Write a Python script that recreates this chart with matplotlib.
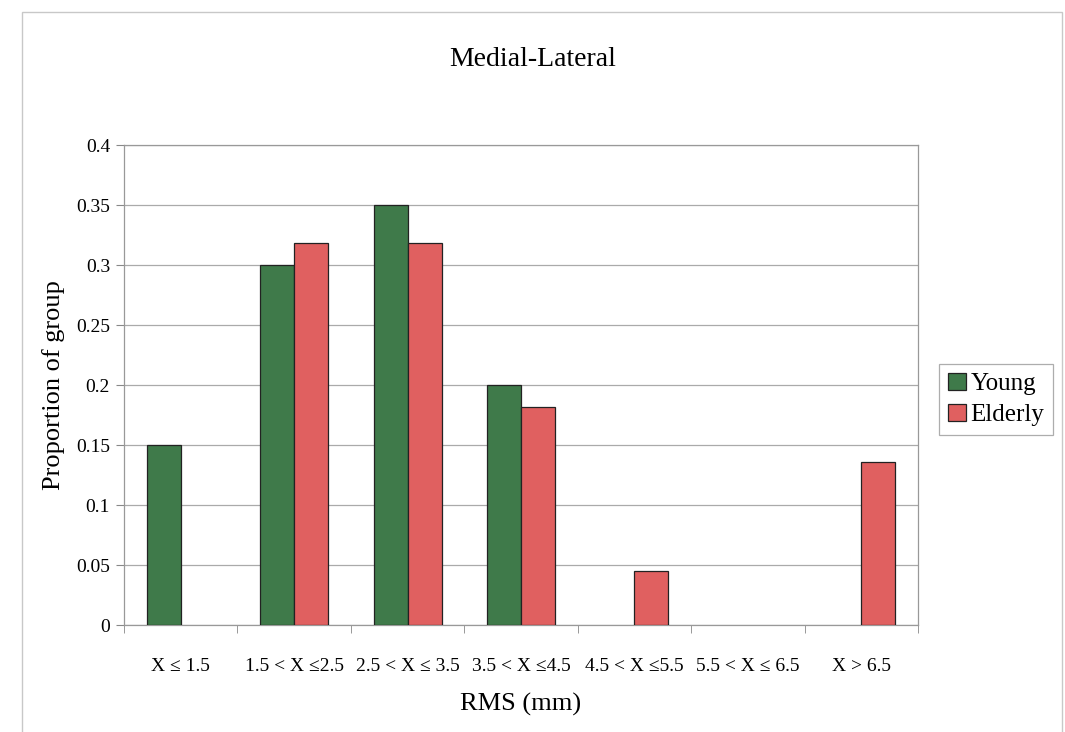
import numpy as np
import matplotlib
matplotlib.use("Agg")
import matplotlib.pyplot as plt
from matplotlib.patches import Rectangle, Patch

categories = ["X \u2264 1.5", "1.5 < X \u22642.5", "2.5 < X \u2264 3.5", "3.5 < X \u22644.5",
              "4.5 < X \u22645.5", "5.5 < X \u2264 6.5", "X > 6.5"]
young = [0.15, 0.30, 0.35, 0.20, 0.0, 0.0, 0.0]
elderly = [0.0, 0.318, 0.318, 0.182, 0.045, 0.0, 0.136]
yticks = [0, 0.05, 0.1, 0.15, 0.2, 0.25, 0.3, 0.35, 0.4]
ytick_labels = ["0", "0.05", "0.1", "0.15", "0.2", "0.25", "0.3", "0.35", "0.4"]

GREEN, RED = "#3f7a4a", "#e06060"

plt.rcParams["font.family"] = ["Liberation Serif", "DejaVu Serif"]

fig = plt.figure(figsize=(10.65, 7.32), dpi=100)
fig.patches.append(Rectangle((22 / 1065, -0.01), 1040 / 1065, 1 - 12 / 732 + 0.01,
                             transform=fig.transFigure, fill=False,
                             edgecolor="#c8c8c8", lw=1.0))
ax = fig.add_axes([124 / 1065, 1 - 625 / 732, (918 - 124) / 1065, (625 - 145) / 732])

x = np.arange(len(categories))
w = 0.3
bars_y = ax.bar(x - w / 2, young, w, color=GREEN, edgecolor="#222222", lw=0.9, zorder=3)
bars_e = ax.bar(x + w / 2, elderly, w, color=RED, edgecolor="#222222", lw=0.9, zorder=3)
# empty bins: no outline
for b in list(bars_y) + list(bars_e):
    if b.get_height() == 0:
        b.set_linewidth(0)

ax.set_xlim(-0.5, len(categories) - 0.5)
ax.set_ylim(0, 0.4)
ax.set_yticks(yticks)
ax.set_yticklabels(ytick_labels, fontsize=14)
ax.set_xticks(x)
ax.set_xticklabels(categories, fontsize=14)
ax.tick_params(axis="x", length=0, pad=24)
ax.set_xticks(np.arange(-0.5, len(categories)), minor=True)
ax.tick_params(axis="x", which="minor", length=6, color="#888888", direction="out")
ax.tick_params(axis="y", length=6, color="#888888", direction="out", pad=4)
ax.yaxis.grid(True, color="#aaaaaa", lw=0.9, zorder=0)
for s in ax.spines.values():
    s.set_color("#999999")
    s.set_linewidth(0.9)

ax.set_ylabel("Proportion of group", fontsize=19, labelpad=8)
ax.set_xlabel("RMS (mm)", fontsize=19, labelpad=13)
fig.text(0.5, 1 - 60 / 732, "Medial-Lateral", ha="center", va="center", fontsize=20)

handles = [Patch(facecolor=GREEN, edgecolor="#222222", lw=0.9, label="Young"),
           Patch(facecolor=RED, edgecolor="#222222", lw=0.9, label="Elderly")]
leg = ax.legend(handles=handles, loc="center left", bbox_to_anchor=(1.027, 0.47),
                fontsize=18, frameon=True, fancybox=False, handlelength=0.7,
                handleheight=0.7, handletextpad=0.2, borderpad=0.35, labelspacing=0.35,
                borderaxespad=0)
leg.get_frame().set_edgecolor("#999999")
leg.get_frame().set_linewidth(0.9)

fig.savefig("out.png", dpi=100)
